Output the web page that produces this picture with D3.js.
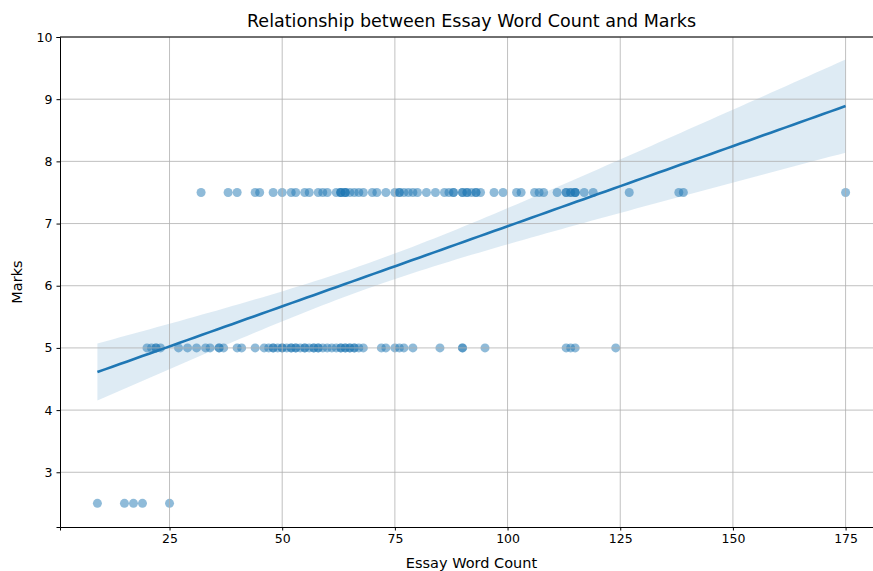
<!DOCTYPE html>
<html>
<head>
<meta charset="utf-8">
<script src="https://cdn.jsdelivr.net/npm/d3@7"></script>
<style>
  body { margin: 0; background: #fff; }
  svg { font-family: "DejaVu Sans", sans-serif; }
</style>
</head>
<body>
<div class="main-container"></div>
<script>
// word counts of essays, grouped by the mark they got
const wordsAt75 = [32, 38, 40, 44, 45, 48, 50, 52, 53, 55, 56, 58, 59, 60, 62, 63, 63, 63, 64, 64, 64,
    65, 66, 67, 68, 70, 71, 73, 75, 76, 76, 77, 78, 79, 80, 82, 84, 86, 87, 88, 88,
    90, 90, 91, 91, 92, 93, 93, 94, 97, 99, 102, 103, 106, 107, 108, 111, 113, 113, 114, 114,
    115, 115, 115, 117, 119, 127, 138, 139, 175];
const wordsAt5 = [20, 21, 22, 22, 23, 27, 29, 31, 33, 34, 36, 36, 37, 40, 41, 44, 46, 47, 48, 48,
    49, 50, 50, 51, 52, 52, 53, 53, 54, 55, 55, 56, 57, 57, 58, 58, 59, 60, 61, 62, 63, 63,
    64, 64, 65, 65, 66, 66, 67, 68, 72, 73, 75, 76, 77, 79, 85, 90, 90, 95, 113, 114, 115, 124];
const wordsAt25 = [9, 15, 17, 19, 25];
const markLevels = [7.5, 5, 2.5];

const xTicks = [25, 50, 75, 100, 125, 150, 175];
const yTicks = [3, 4, 5, 6, 7, 8, 9, 10];

const renderChart = () => {
    const width = 873;
    const height = 571;
    const margin = { top: 37, left: 60, bottom: 44 };
    const plotRight = 883; // axes run past the edge of the picture
    const blue = "#1f77b4";

    const points = [];
    [wordsAt75, wordsAt5, wordsAt25].forEach((arr, i) => {
        arr.forEach(w => points.push({ x: w, y: markLevels[i] }));
    });

    const x = d3.scaleLinear().domain([0.7, 183.3]).range([margin.left, plotRight]);
    const y = d3.scaleLinear().domain([2.12, 10]).range([height - margin.bottom, margin.top]);

    const svg = d3.select(".main-container")
        .append("svg")
        .attr("width", width)
        .attr("height", height);

    // least squares fit + 95% band
    const n = points.length;
    const mx = d3.mean(points, d => d.x);
    const my = d3.mean(points, d => d.y);
    const sxx = d3.sum(points, d => (d.x - mx) ** 2);
    const sxy = d3.sum(points, d => (d.x - mx) * (d.y - my));
    const b = sxy / sxx;
    const a = my - b * mx;
    const s = Math.sqrt(d3.sum(points, d => (d.y - a - b * d.x) ** 2) / (n - 2));
    const [x0, x1] = d3.extent(points, d => d.x);
    const grid = d3.range(0, 101).map(i => x0 + (x1 - x0) * i / 100);
    const fit = grid.map(gx => {
        const se = s * Math.sqrt(1 / n + (gx - mx) ** 2 / sxx);
        const yh = a + b * gx;
        return { x: gx, y: yh, lo: yh - 1.98 * se, hi: yh + 1.98 * se };
    });

    const g = svg.append("g");

    g.append("path")
        .datum(fit)
        .attr("d", d3.area().x(d => x(d.x)).y0(d => y(d.lo)).y1(d => y(d.hi)))
        .style("fill", blue)
        .style("opacity", 0.15);

    g.selectAll("circle")
        .data(points)
        .enter()
        .append("circle")
        .attr("cx", d => x(d.x))
        .attr("cy", d => y(d.y))
        .attr("r", 4.5)
        .style("fill", blue)
        .style("opacity", 0.5);

    // grid
    g.selectAll(".vgrid")
        .data(xTicks)
        .enter()
        .append("line")
        .attr("x1", d => x(d)).attr("x2", d => x(d))
        .attr("y1", margin.top).attr("y2", height - margin.bottom)
        .style("stroke", "#b0b0b0")
        .style("stroke-width", 0.8);
    g.selectAll(".hgrid")
        .data(yTicks)
        .enter()
        .append("line")
        .attr("x1", margin.left).attr("x2", plotRight)
        .attr("y1", d => y(d)).attr("y2", d => y(d))
        .style("stroke", "#b0b0b0")
        .style("stroke-width", 0.8);

    g.append("path")
        .datum(fit)
        .attr("d", d3.line().x(d => x(d.x)).y(d => y(d.y)))
        .style("fill", "none")
        .style("stroke", blue)
        .style("stroke-width", 2.6);

    // axes
    const xAxis = svg.append("g")
        .attr("transform", "translate(0," + (height - margin.bottom) + ")")
        .call(d3.axisBottom(x).tickValues(xTicks).tickSize(3.5).tickPadding(4));
    const yAxis = svg.append("g")
        .attr("transform", "translate(" + margin.left + ",0)")
        .call(d3.axisLeft(y).tickValues(yTicks).tickSize(3.5).tickPadding(4));
    [xAxis, yAxis].forEach(ax => {
        ax.selectAll("text").style("font-size", "12.5px").style("fill", "#000")
            .style("font-family", "DejaVu Sans, sans-serif");
        ax.select(".domain").style("stroke", "#000").style("stroke-width", 1);
    });

    // top spine
    svg.append("line")
        .attr("x1", margin.left).attr("x2", plotRight)
        .attr("y1", margin.top).attr("y2", margin.top)
        .style("stroke", "#000");

    svg.append("text")
        .attr("x", (margin.left + plotRight) / 2)
        .attr("y", 27)
        .attr("text-anchor", "middle")
        .style("font-size", "17.5px")
        .text("Relationship between Essay Word Count and Marks");

    svg.append("text")
        .attr("x", (margin.left + plotRight) / 2)
        .attr("y", 568)
        .attr("text-anchor", "middle")
        .style("font-size", "14.5px")
        .text("Essay Word Count");

    svg.append("text")
        .attr("transform", "translate(22," + (margin.top + height - margin.bottom) / 2 + ") rotate(-90)")
        .attr("text-anchor", "middle")
        .style("font-size", "14.5px")
        .text("Marks");
}

renderChart();
</script>
</body>
</html>
